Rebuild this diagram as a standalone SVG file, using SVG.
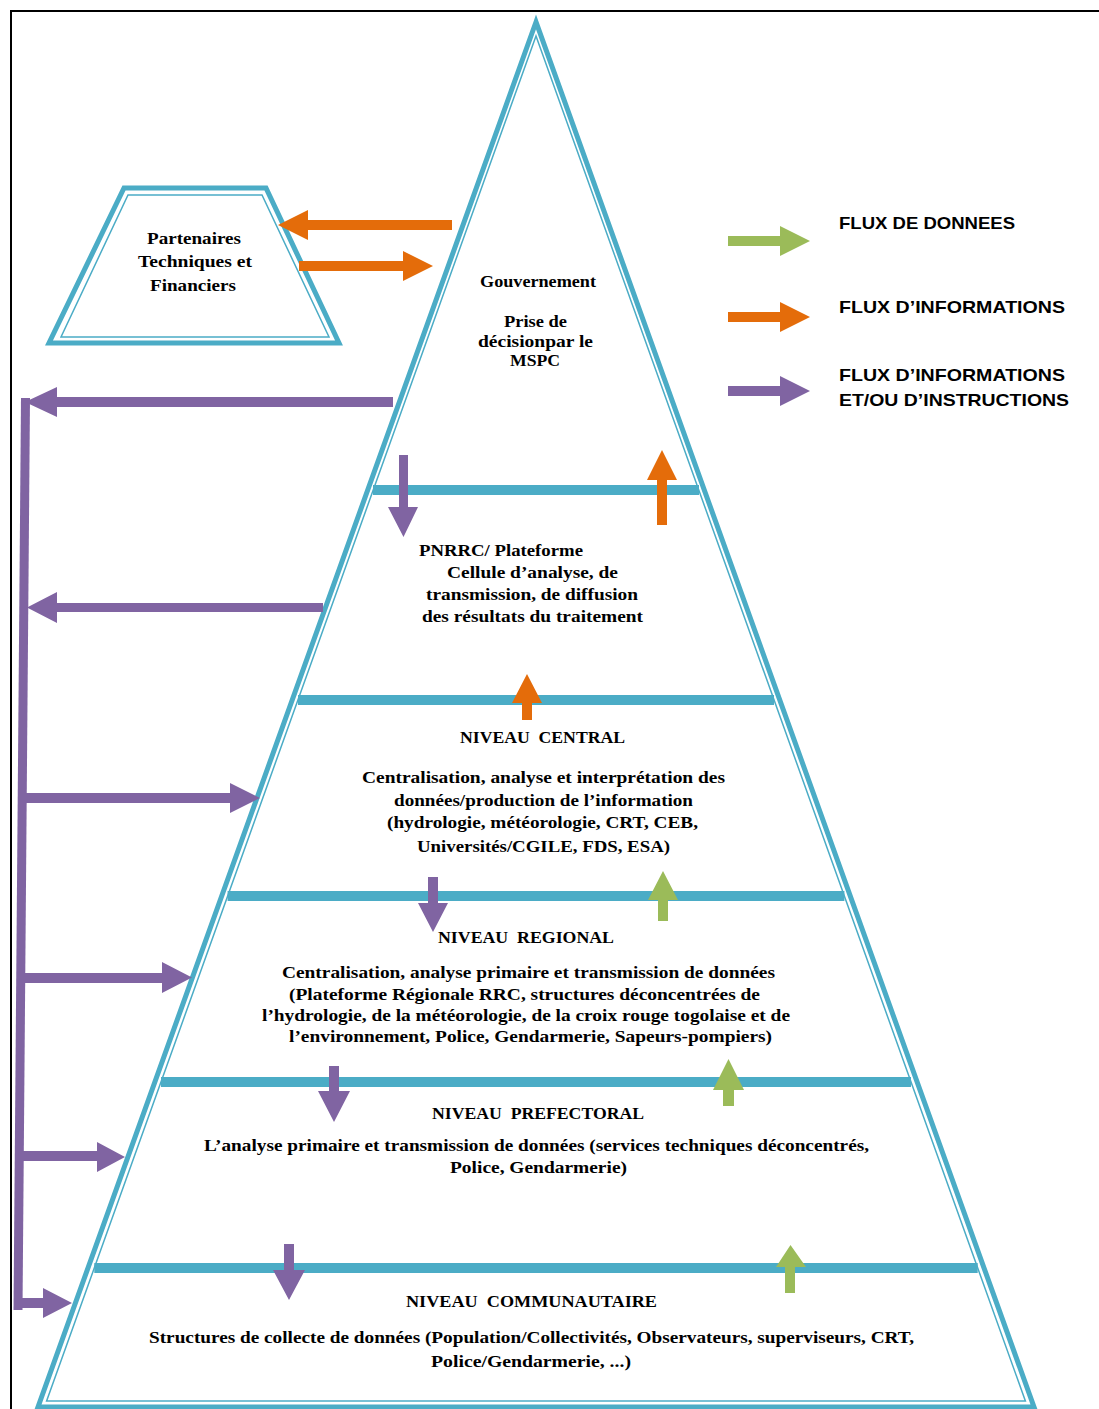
<svg xmlns="http://www.w3.org/2000/svg" width="1099" height="1409" viewBox="0 0 1099 1409">
<style>
.thick{fill:none;stroke:#4BACC6;stroke-width:5;stroke-linejoin:miter}
.thin{fill:none;stroke:#4BACC6;stroke-width:1.5}
.band{stroke:#4BACC6;stroke-width:10}
.pur{fill:#8064A2}
.ora{fill:#E46C0A}
.gre{fill:#9BBB59}
.t{font-family:"Liberation Serif","Times New Roman",serif;font-weight:bold;fill:#000}
.lg{font-family:"Liberation Sans",Arial,sans-serif;font-weight:bold;font-size:17px;fill:#000}
</style>
<rect x="0" y="0" width="1099" height="1409" fill="#fff"/>
<path d="M11,1409 V11 H1099" fill="none" stroke="#000" stroke-width="2"/>

<g id="pyramid">
<polygon class="thick" points="536,22 38,1407 1034,1407"/>
<polygon class="thin" points="536,36 46.6,1401 1025.4,1401"/>
<line class="band" x1="373" y1="490" x2="699" y2="490"/>
<line class="band" x1="298" y1="700" x2="774" y2="700"/>
<line class="band" x1="227.6" y1="896" x2="844.4" y2="896"/>
<line class="band" x1="161" y1="1082" x2="911" y2="1082"/>
<line class="band" x1="94.3" y1="1268" x2="977.7" y2="1268"/>
</g>

<g id="gouvernement">
<text class="t" font-size="16" x="480" y="287" textLength="116" lengthAdjust="spacingAndGlyphs">Gouvernement</text>
<text class="t" font-size="16" x="504" y="327" textLength="63" lengthAdjust="spacingAndGlyphs">Prise de</text>
<text class="t" font-size="16" x="478" y="347" textLength="115" lengthAdjust="spacingAndGlyphs">décisionpar le</text>
<text class="t" font-size="16" x="510" y="366" textLength="50" lengthAdjust="spacingAndGlyphs">MSPC</text>
</g>

<g id="partenaires">
<polygon points="124,188 266,188 339,343 49,343" class="thick"/>
<polygon points="128,195 262,195 329,337 61,337" class="thin"/>
<text class="t" font-size="17" x="147" y="244" textLength="94" lengthAdjust="spacingAndGlyphs">Partenaires</text>
<text class="t" font-size="17" x="138" y="267" textLength="114" lengthAdjust="spacingAndGlyphs">Techniques et</text>
<text class="t" font-size="17" x="150" y="291" textLength="86" lengthAdjust="spacingAndGlyphs">Financiers</text>
</g>

<g id="pnrrc">
<text class="t" font-size="17" x="419" y="556" textLength="164" lengthAdjust="spacingAndGlyphs">PNRRC/ Plateforme</text>
<text class="t" font-size="17" x="447" y="578" textLength="171" lengthAdjust="spacingAndGlyphs">Cellule d’analyse, de</text>
<text class="t" font-size="17" x="426" y="600" textLength="212" lengthAdjust="spacingAndGlyphs">transmission, de diffusion</text>
<text class="t" font-size="17" x="422" y="622" textLength="221" lengthAdjust="spacingAndGlyphs">des résultats du traitement</text>
</g>

<g id="niveau-central">
<text class="t" font-size="17" x="460" y="743" textLength="165" lengthAdjust="spacingAndGlyphs" xml:space="preserve">NIVEAU  CENTRAL</text>
<text class="t" font-size="17" x="362" y="783" textLength="363" lengthAdjust="spacingAndGlyphs">Centralisation, analyse et interprétation des</text>
<text class="t" font-size="17" x="394" y="806" textLength="299" lengthAdjust="spacingAndGlyphs">données/production de l’information</text>
<text class="t" font-size="17" x="387" y="828" textLength="311" lengthAdjust="spacingAndGlyphs">(hydrologie, météorologie, CRT, CEB,</text>
<text class="t" font-size="17" x="417" y="852" textLength="253" lengthAdjust="spacingAndGlyphs">Universités/CGILE, FDS, ESA)</text>
</g>

<g id="niveau-regional">
<text class="t" font-size="17" x="438" y="943" textLength="176" lengthAdjust="spacingAndGlyphs" xml:space="preserve">NIVEAU  REGIONAL</text>
<text class="t" font-size="17" x="282" y="978" textLength="493" lengthAdjust="spacingAndGlyphs">Centralisation, analyse primaire et transmission de données</text>
<text class="t" font-size="17" x="289" y="1000" textLength="471" lengthAdjust="spacingAndGlyphs">(Plateforme Régionale RRC, structures déconcentrées de</text>
<text class="t" font-size="17" x="262" y="1021" textLength="528" lengthAdjust="spacingAndGlyphs">l’hydrologie, de la météorologie, de la croix rouge togolaise et de</text>
<text class="t" font-size="17" x="289" y="1042" textLength="483" lengthAdjust="spacingAndGlyphs">l’environnement, Police, Gendarmerie, Sapeurs-pompiers)</text>
</g>

<g id="niveau-prefectoral">
<text class="t" font-size="17" x="432" y="1119" textLength="212" lengthAdjust="spacingAndGlyphs" xml:space="preserve">NIVEAU  PREFECTORAL</text>
<text class="t" font-size="17" x="204" y="1151" textLength="665" lengthAdjust="spacingAndGlyphs">L’analyse primaire et transmission de données (services techniques déconcentrés,</text>
<text class="t" font-size="17" x="450" y="1173" textLength="177" lengthAdjust="spacingAndGlyphs">Police, Gendarmerie)</text>
</g>

<g id="niveau-communautaire">
<text class="t" font-size="17" x="406" y="1307" textLength="251" lengthAdjust="spacingAndGlyphs" xml:space="preserve">NIVEAU  COMMUNAUTAIRE</text>
<text class="t" font-size="17" x="149" y="1343" textLength="765" lengthAdjust="spacingAndGlyphs">Structures de collecte de données (Population/Collectivités, Observateurs, superviseurs, CRT,</text>
<text class="t" font-size="17" x="431" y="1367" textLength="200" lengthAdjust="spacingAndGlyphs">Police/Gendarmerie, ...)</text>
</g>

<g id="legend">
<path class="gre" d="M728,236 H780 V226 L810,241 L780,256 V246 H728 Z"/>
<path class="ora" d="M728,312 H780 V302 L810,317 L780,332 V322 H728 Z"/>
<path class="pur" d="M728,386 H780 V376 L810,391 L780,406 V396 H728 Z"/>
<text class="lg" x="839" y="229" textLength="176" lengthAdjust="spacingAndGlyphs">FLUX DE DONNEES</text>
<text class="lg" x="839" y="313" textLength="226" lengthAdjust="spacingAndGlyphs">FLUX D’INFORMATIONS</text>
<text class="lg" x="839" y="381" textLength="226" lengthAdjust="spacingAndGlyphs">FLUX D’INFORMATIONS</text>
<text class="lg" x="839" y="406" textLength="230" lengthAdjust="spacingAndGlyphs">ET/OU D’INSTRUCTIONS</text>
</g>

<g id="connectors">
<!-- orange between partners and government -->
<path class="ora" d="M452,220 H308 V210 L278,225 L308,240 V230 H452 Z"/>
<path class="ora" d="M299,261 H403 V251 L433,266 L403,281 V271 H299 Z"/>
<!-- purple side loop -->
<line x1="25.5" y1="398" x2="18" y2="1310" stroke="#8064A2" stroke-width="9"/>
<path class="pur" d="M393,397 H57 V387 L25,402 L57,417 V407 H393 Z"/>
<path class="pur" d="M323,603 H57 V592 L27,607.5 L57,623 V612 H323 Z"/>
<path class="pur" d="M22,793 H230 V783 L260,798 L230,813 V803 H22 Z"/>
<path class="pur" d="M20,973 H162 V962 L192,977.5 L162,993 V983 H20 Z"/>
<path class="pur" d="M19,1151 H97 V1142 L125,1157 L97,1172 V1161 H19 Z"/>
<path class="pur" d="M17,1298 H43 V1288 L72,1303 L43,1318 V1308 H17 Z"/>
<!-- purple down arrows -->
<path class="pur" d="M399,455 H408 V507 H418 L403.5,537 L388,507 H399 Z"/>
<path class="pur" d="M428,877 H438 V903 H448 L433,932 L418,903 H428 Z"/>
<path class="pur" d="M329,1066 H339 V1091 H350 L334,1122 L318,1091 H329 Z"/>
<path class="pur" d="M284,1244 H294 V1270 H305 L289,1300 L273,1270 H284 Z"/>
<!-- orange up arrows -->
<path class="ora" d="M657,525 V480 H647 L662,450 L677,480 H667 V525 Z"/>
<path class="ora" d="M522,720 V703 H512 L527,674 L542,703 H532 V720 Z"/>
<!-- green up arrows -->
<path class="gre" d="M658,921 V900 H648 L663,871 L678,900 H668 V921 Z"/>
<path class="gre" d="M723,1106 V1090 H713 L728.5,1059 L744,1090 H734 V1106 Z"/>
<path class="gre" d="M785,1293 V1267 H776 L790.5,1245 L806,1267 H795 V1293 Z"/>
</g>
</svg>
